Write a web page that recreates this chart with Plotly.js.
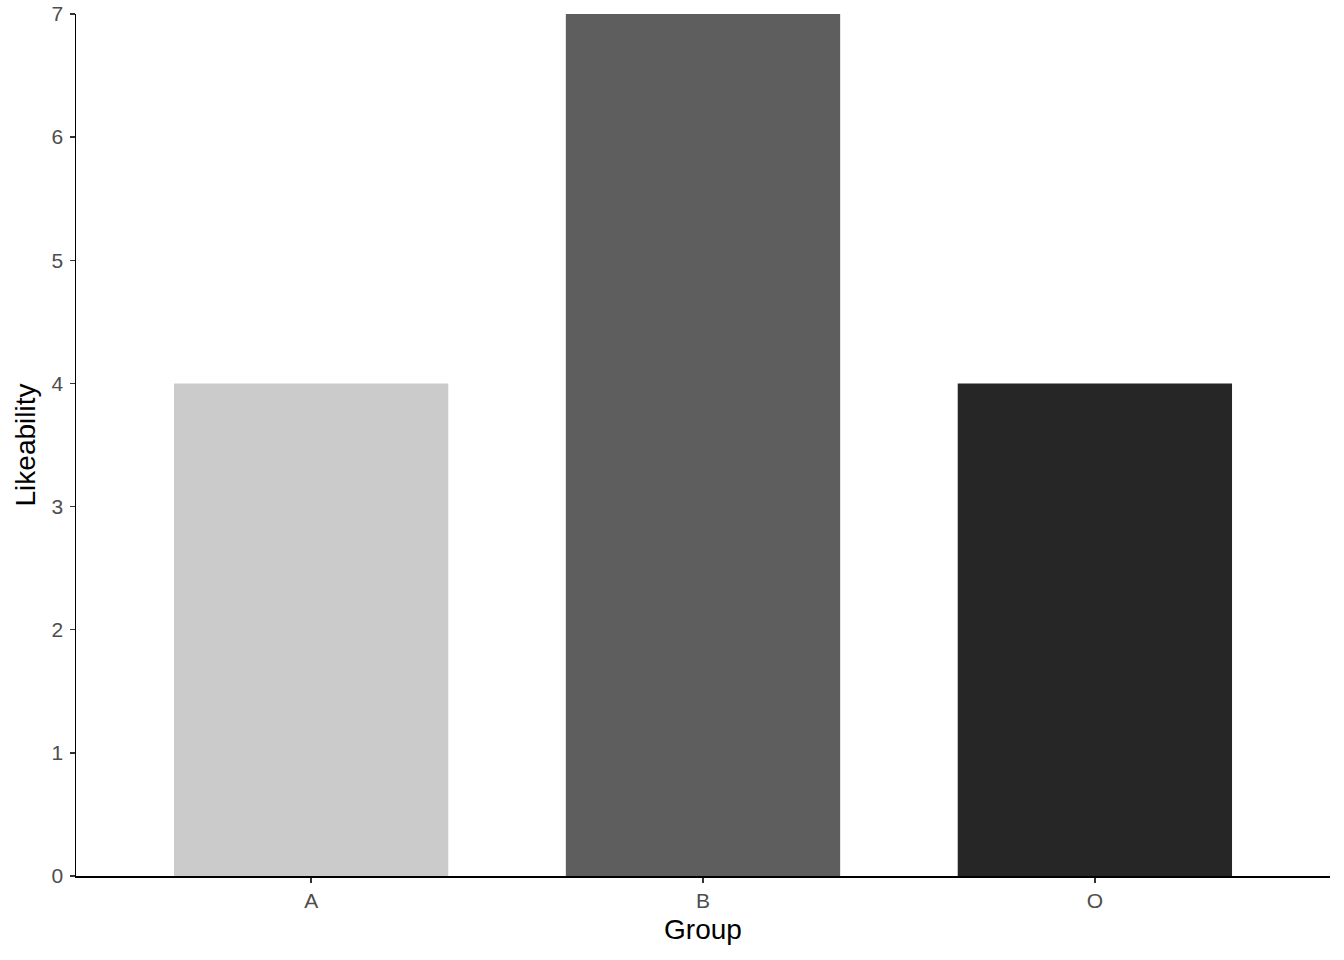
<!DOCTYPE html>
<html>
<head>
<meta charset="utf-8">
<script src="https://cdn.plot.ly/plotly-3.0.1.min.js"></script>
<style>html,body{margin:0;padding:0;background:#fff;}#chart{width:1344px;height:960px;}</style>
</head>
<body>
<div id="chart"></div>
<script>
const groups = ["A", "B", "O"];
const likeability = [4, 7, 4];
const barColors = ["#CBCBCB", "#5E5E5E", "#262626"];

const trace = {
  type: "bar",
  x: groups,
  y: likeability,
  width: 0.7,
  marker: { color: barColors, line: { width: 0 } },
  hoverinfo: "x+y"
};

const layout = {
  width: 1344,
  height: 960,
  margin: { l: 76, r: 14, t: 14, b: 84 },
  paper_bgcolor: "#ffffff",
  plot_bgcolor: "#ffffff",
  showlegend: false,
  font: { family: "Liberation Sans, Arial, sans-serif", color: "#000" },
  xaxis: {
    type: "category",
    range: [-0.6, 2.6],
    showgrid: false,
    zeroline: false,
    showline: true,
    linecolor: "#000",
    linewidth: 1.5,
    ticks: "outside",
    ticklen: 5,
    tickwidth: 1.5,
    tickcolor: "#333",
    tickfont: { size: 21, color: "#4D4D4D" },
    title: { text: "Group", font: { size: 28, color: "#000" }, standoff: 8 }
  },
  yaxis: {
    range: [0, 7],
    tickvals: [0, 1, 2, 3, 4, 5, 6, 7],
    showgrid: false,
    zeroline: false,
    showline: true,
    linecolor: "#000",
    linewidth: 1.5,
    ticks: "outside",
    ticklen: 5,
    tickwidth: 1.5,
    tickcolor: "#333",
    tickfont: { size: 21, color: "#4D4D4D" },
    ticklabelstandoff: 2,
    title: { text: "Likeability", font: { size: 28, color: "#000" }, standoff: 8 }
  }
};

Plotly.newPlot("chart", [trace], layout, { displayModeBar: false, staticPlot: true });
</script>
</body>
</html>
